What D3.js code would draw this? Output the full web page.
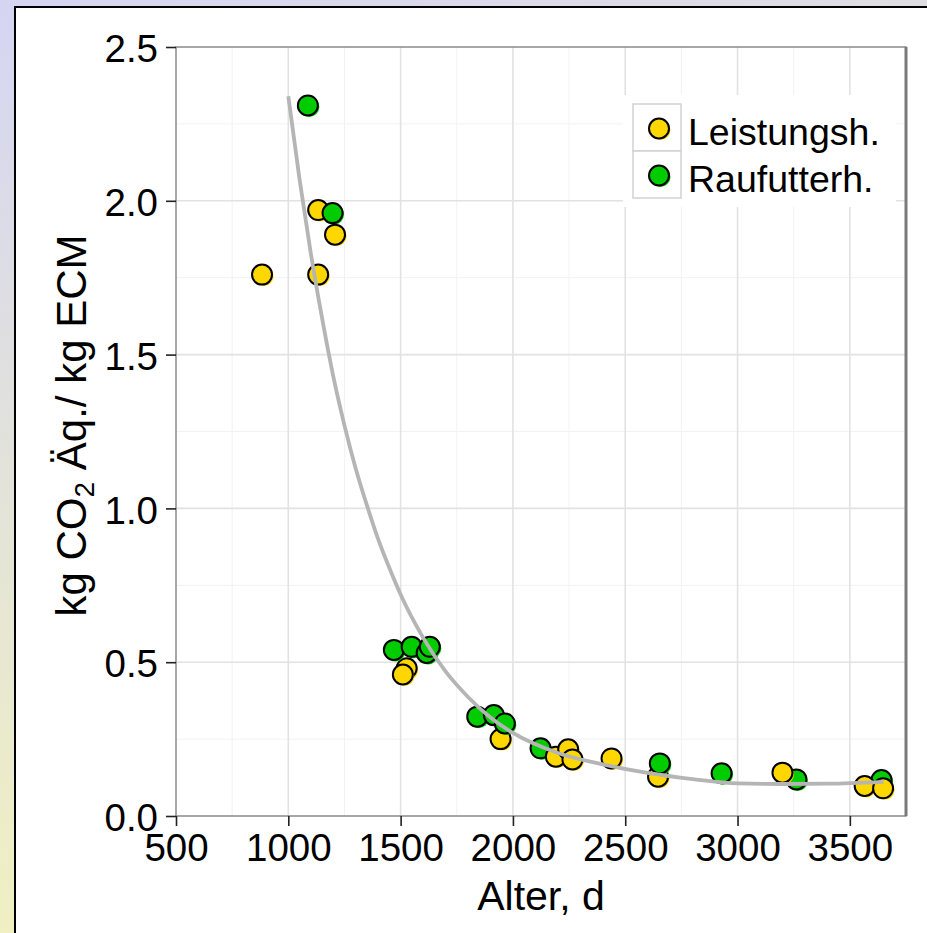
<!DOCTYPE html>
<html>
<head>
<meta charset="utf-8">
<script src="https://cdn.jsdelivr.net/npm/d3@7/dist/d3.min.js"></script>
<style>
  html, body { margin: 0; padding: 0; background: #fff; }
  svg { display: block; }
  text { font-family: "Liberation Sans", Arial, Helvetica, sans-serif; fill: #000; }
</style>
</head>
<body>
<svg id="chart" width="927" height="933"></svg>
<script>
// Age of the cow (days) and emissions per kg energy-corrected milk, one row per animal
const ages   = [883, 1133, 1197, 1208, 1133, 1087, 1527, 1510, 1470, 1549, 1616, 1630,
                1945, 1841, 1915, 1964, 2123, 2191, 2246, 2265, 2439, 2646, 2654,
                2929, 3262, 3200, 3641, 3566, 3648];
const values = [1.76, 1.97, 1.96, 1.89, 1.76, 2.31, 0.48, 0.46, 0.54, 0.55, 0.53, 0.55,
                0.25, 0.323, 0.328, 0.301, 0.22, 0.193, 0.217, 0.184, 0.187, 0.128, 0.171,
                0.139, 0.119, 0.141, 0.117, 0.0975, 0.09];
const groups = ["L", "L", "R", "L", "L", "R", "L", "L", "R", "R", "R", "R",
                "L", "R", "R", "R", "R", "L", "L", "L", "L", "L", "R",
                "R", "R", "L", "R", "L", "L"];

// Group keys, legend labels and fill colours
const groupKeys   = ["L", "R"];
const groupLabels = ["Leistungsh.", "Raufutterh."];
const groupFills  = ["#FFD700", "#00CC00"];

// Fitted trend across age
const fitAges   = [1000, 1050, 1100, 1150, 1200, 1250, 1300, 1350, 1400, 1450, 1500, 1600,
                   1700, 1800, 1900, 2000, 2200, 2400, 2600, 2800, 3000, 3200, 3400, 3650];
const fitValues = [2.34, 2.07, 1.83, 1.62, 1.43, 1.27, 1.13, 1.01, 0.90, 0.806, 0.72, 0.58,
                   0.47, 0.387, 0.32, 0.27, 0.205, 0.168, 0.14, 0.12, 0.106, 0.104, 0.105, 0.111];

// Axis ticks
const xTicks = [500, 1000, 1500, 2000, 2500, 3000, 3500];
const yTicks = [0.0, 0.5, 1.0, 1.5, 2.0, 2.5];
const xMinor = [750, 1250, 1750, 2250, 2750, 3250];
const yMinor = [0.25, 0.75, 1.25, 1.75, 2.25];

const svg = d3.select("#chart");
const W = 927, H = 933;
const panel = { left: 176, top: 47, right: 906, bottom: 816 };
const R = 10;

// Page backdrop gradient
const defs = svg.append("defs");
const grad = defs.append("linearGradient").attr("id", "bg")
  .attr("x1", 0).attr("y1", 0).attr("x2", 0.35).attr("y2", 1);
grad.append("stop").attr("offset", "0%").attr("stop-color", "#d5d5f3");
grad.append("stop").attr("offset", "100%").attr("stop-color", "#f3f3bd");
svg.append("rect").attr("width", W).attr("height", H).attr("fill", "url(#bg)");

// White sheet with black frame
svg.append("rect").attr("x", 15).attr("y", 7).attr("width", W + 20).attr("height", H + 20)
  .attr("fill", "#fff").attr("stroke", "#000").attr("stroke-width", 2);

const x = d3.scaleLinear().domain([500, 3750]).range([panel.left, panel.right]);
const y = d3.scaleLinear().domain([0, 2.5]).range([panel.bottom, panel.top]);
const color = d3.scaleOrdinal().domain(groupKeys).range(groupFills);

// Grid lines
const grid = svg.append("g");
grid.selectAll(".xmin").data(xMinor).join("line")
  .attr("x1", d => x(d)).attr("x2", d => x(d)).attr("y1", panel.top).attr("y2", panel.bottom)
  .attr("stroke", "#f2f2f2").attr("stroke-width", 1);
grid.selectAll(".ymin").data(yMinor).join("line")
  .attr("y1", d => y(d)).attr("y2", d => y(d)).attr("x1", panel.left).attr("x2", panel.right)
  .attr("stroke", "#f2f2f2").attr("stroke-width", 1);
grid.selectAll(".xmaj").data(xTicks.filter(d => d > 500)).join("line")
  .attr("x1", d => x(d)).attr("x2", d => x(d)).attr("y1", panel.top).attr("y2", panel.bottom)
  .attr("stroke", "#e2e2e2").attr("stroke-width", 1.6);
grid.selectAll(".ymaj").data(yTicks.filter(d => d > 0 && d < 2.5)).join("line")
  .attr("y1", d => y(d)).attr("y2", d => y(d)).attr("x1", panel.left).attr("x2", panel.right)
  .attr("stroke", "#e2e2e2").attr("stroke-width", 1.6);

// Points: a colour halo offset to the lower right, then the outlined disc
const rows = ages.map((a, i) => ({ age: a, value: values[i], group: groups[i] }));
const pts = svg.append("g");
rows.forEach(r => {
  pts.append("circle").attr("cx", x(r.age) + 1.5).attr("cy", y(r.value) + 1.5).attr("r", R)
    .attr("fill", color(r.group));
  pts.append("circle").attr("cx", x(r.age)).attr("cy", y(r.value)).attr("r", R)
    .attr("fill", color(r.group)).attr("stroke", "#000").attr("stroke-width", 2);
});

// Trend line
const fit = fitAges.map((a, i) => [a, fitValues[i]]);
svg.append("path").datum(fit)
  .attr("d", d3.line().x(d => x(d[0])).y(d => y(d[1])).curve(d3.curveMonotoneX))
  .attr("fill", "none").attr("stroke", "#b5b5b5").attr("stroke-width", 3.8);

// Legend
const lg = svg.append("g");
lg.append("rect").attr("x", 623).attr("y", 95).attr("width", 273).attr("height", 112).attr("fill", "#fff");
groupKeys.forEach((k, i) => {
  const top = 104 + i * 47;
  lg.append("rect").attr("x", 633).attr("y", top).attr("width", 48).attr("height", 47)
    .attr("fill", "#fff").attr("stroke", "#d2d2d2").attr("stroke-width", 1.5);
  lg.append("circle").attr("cx", 660.5).attr("cy", top + 26).attr("r", R).attr("fill", color(k));
  lg.append("circle").attr("cx", 659).attr("cy", top + 24.5).attr("r", R)
    .attr("fill", color(k)).attr("stroke", "#000").attr("stroke-width", 2);
  lg.append("text").attr("x", 688).attr("y", top + 41).attr("font-size", 37.5).text(groupLabels[i]);
});

// Panel frame
svg.append("rect").attr("x", panel.left).attr("y", panel.top)
  .attr("width", panel.right - panel.left).attr("height", panel.bottom - panel.top)
  .attr("fill", "none").attr("stroke", "#8a8a8a").attr("stroke-width", 1.5);
svg.append("line").attr("x1", panel.right).attr("x2", panel.right)
  .attr("y1", panel.top).attr("y2", panel.bottom).attr("stroke", "#7a7a7a").attr("stroke-width", 3);

// Axes
const xAxis = svg.append("g").attr("transform", `translate(0,${panel.bottom})`)
  .call(d3.axisBottom(x).tickValues(xTicks).tickFormat(d3.format("d")).tickSize(10).tickPadding(5));
const yAxis = svg.append("g").attr("transform", `translate(${panel.left},0)`)
  .call(d3.axisLeft(y).tickValues(yTicks).tickFormat(d3.format(".1f")).tickSize(10).tickPadding(8));
[xAxis, yAxis].forEach(g => {
  g.select(".domain").remove();
  g.selectAll(".tick line").attr("stroke", "#222").attr("stroke-width", 1.6);
  g.selectAll(".tick text").attr("font-size", 38.5).attr("font-family", null).attr("fill", "#000");
});
yAxis.selectAll(".tick text").attr("dy", "0.38em");
xAxis.selectAll(".tick text").attr("dy", "0.78em");

// Axis titles
svg.append("text").attr("x", (panel.left + panel.right) / 2).attr("y", 910)
  .attr("text-anchor", "middle").attr("font-size", 41).text("Alter, d");
const yt = svg.append("text").attr("transform", `translate(86,${(panel.top + panel.bottom) / 2 - 6}) rotate(-90)`)
  .attr("text-anchor", "middle").attr("font-size", 42);
yt.append("tspan").text("kg CO");
yt.append("tspan").attr("font-size", 28).attr("dy", 8).text("2");
yt.append("tspan").attr("dy", -8).text(" Äq./ kg ECM");
</script>
</body>
</html>
